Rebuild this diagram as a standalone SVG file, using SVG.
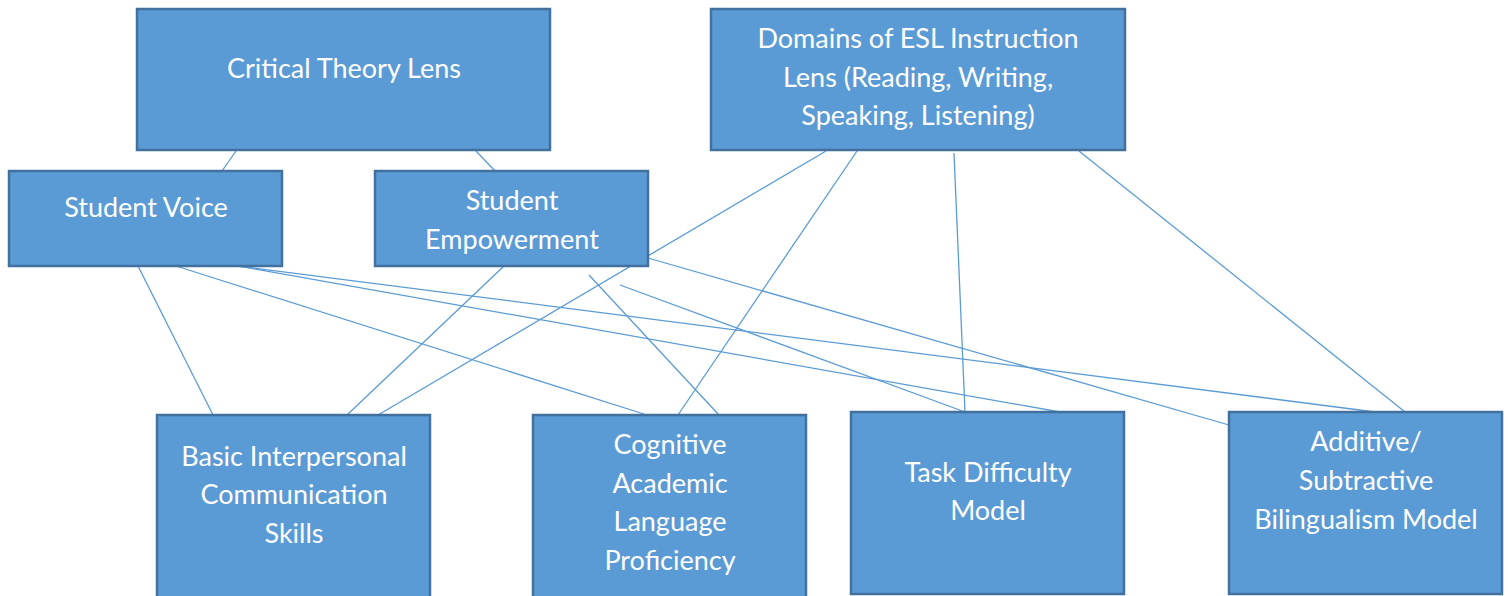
<svg xmlns="http://www.w3.org/2000/svg" width="1508" height="596" viewBox="0 0 1508 596">
<style>
.box{fill:#5B9BD5;stroke:#41719C;stroke-width:2.5}
.lbl{fill:#FFFFFF;font-family:Lato,"Open Sans",sans-serif;font-size:27px;text-anchor:middle}
.con line{stroke:#5B9BD5;stroke-width:1.3}
</style>
<rect width="1508" height="596" fill="#FFFFFF"/>
<g id="connectors" class="con">
<line x1="236" y1="151" x2="222" y2="171"/>
<line x1="476" y1="151" x2="495" y2="171"/>
<line x1="826" y1="151" x2="378" y2="415"/>
<line x1="857" y1="151" x2="678" y2="415"/>
<line x1="954" y1="153" x2="965" y2="412"/>
<line x1="1079" y1="151" x2="1405" y2="412"/>
<line x1="138" y1="266" x2="213" y2="415"/>
<line x1="176" y1="266" x2="647" y2="415"/>
<line x1="238" y1="266" x2="1060" y2="412"/>
<line x1="238" y1="266" x2="1375" y2="412"/>
<line x1="504" y1="266" x2="347" y2="415"/>
<line x1="648" y1="258" x2="1229" y2="425"/>
<line x1="589" y1="275" x2="719" y2="415"/>
<line x1="620" y1="285" x2="965" y2="412"/>
</g>
<g id="critical">
<rect class="box" x="137" y="9" width="413" height="141"/>
<text class="lbl" x="344" y="78">Critical Theory Lens</text>
</g>
<g id="domains">
<rect class="box" x="711" y="9" width="414" height="141"/>
<text class="lbl" x="918" y="48">Domains of ESL Instruction</text>
<text class="lbl" x="918" y="87">Lens (Reading, Writing,</text>
<text class="lbl" x="918" y="125">Speaking, Listening)</text>
</g>
<g id="voice">
<rect class="box" x="9" y="171" width="273" height="95"/>
<text class="lbl" x="146" y="217">Student Voice</text>
</g>
<g id="empowerment">
<rect class="box" x="375" y="171" width="273" height="95"/>
<text class="lbl" x="512" y="210">Student</text>
<text class="lbl" x="512" y="249">Empowerment</text>
</g>
<g id="bics">
<rect class="box" x="157" y="415" width="273" height="190"/>
<text class="lbl" x="294" y="466">Basic Interpersonal</text>
<text class="lbl" x="294" y="504">Communication</text>
<text class="lbl" x="294" y="543">Skills</text>
</g>
<g id="calp">
<rect class="box" x="533" y="415" width="273" height="190"/>
<text class="lbl" x="670" y="454">Cognitive</text>
<text class="lbl" x="670" y="493">Academic</text>
<text class="lbl" x="670" y="531">Language</text>
<text class="lbl" x="670" y="570">Proficiency</text>
</g>
<g id="task">
<rect class="box" x="851" y="412" width="273" height="182"/>
<text class="lbl" x="988" y="482">Task Difficulty</text>
<text class="lbl" x="988" y="520">Model</text>
</g>
<g id="additive">
<rect class="box" x="1229" y="412" width="273" height="182"/>
<text class="lbl" x="1366" y="451">Additive/</text>
<text class="lbl" x="1366" y="490">Subtractive</text>
<text class="lbl" x="1366" y="529">Bilingualism Model</text>
</g>
</svg>
